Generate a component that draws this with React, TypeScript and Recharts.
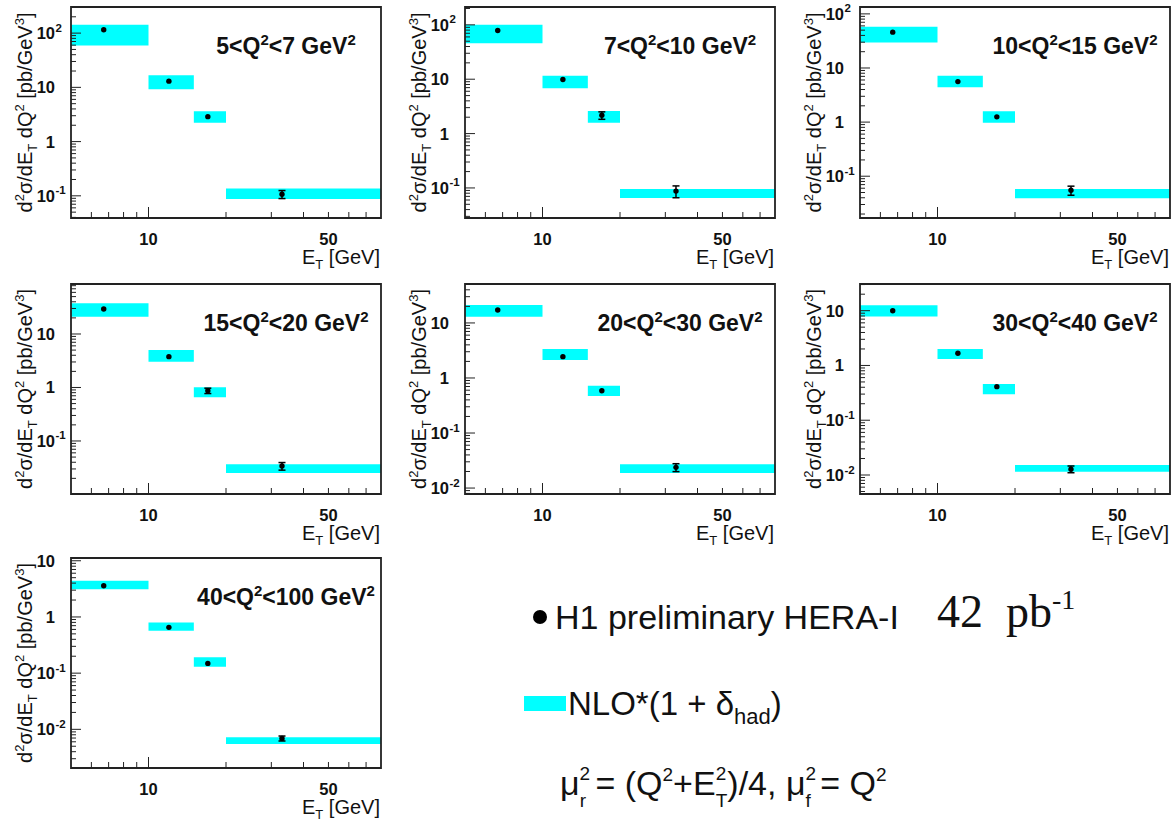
import React from 'react';
import { ScatterChart, Scatter, XAxis, YAxis, ReferenceArea, ErrorBar } from 'recharts';

const SANS = '"Liberation Sans", Arial, Helvetica, sans-serif';
const SERIF = '"Liberation Serif", "Times New Roman", Times, serif';
const CYAN = '#00ffff';
const INK = '#111111';

// E_T binning (GeV)
const ET_BIN_LOW = [5, 10, 15, 20];
const ET_BIN_HIGH = [10, 15, 20, 80];
const ET_POINT = [6.7, 12, 17, 33];
const ET_RANGE = [5, 80];
const ET_TICKS = [6, 7, 8, 9, 10, 20, 30, 40, 50, 60, 70];
const ET_TICK_LABELS = [10, 50];

// Q^2 bins (GeV^2)
const Q2_LOW = [5, 7, 10, 15, 20, 30, 40];
const Q2_HIGH = [7, 10, 15, 20, 30, 40, 100];

// H1 preliminary data points, errors, NLO band (low/high) and y range per Q^2 bin
const H1_Q2_5_7 = [115, 13.0, 2.88, 0.107];
const ERR_Q2_5_7 = [8, 0.8, 0.2, 0.018];
const NLO_LO_Q2_5_7 = [59, 9.2, 2.23, 0.087];
const NLO_HI_Q2_5_7 = [142, 16.8, 3.64, 0.137];
const YR_Q2_5_7 = [0.039, 303];

const H1_Q2_7_10 = [78.7, 9.9, 2.17, 0.0875];
const ERR_Q2_7_10 = [5, 0.6, 0.34, 0.0215];
const NLO_LO_Q2_7_10 = [46, 6.8, 1.59, 0.0656];
const NLO_HI_Q2_7_10 = [100, 11.6, 2.6, 0.0955];
const YR_Q2_7_10 = [0.028, 213];

const H1_Q2_10_15 = [46, 5.6, 1.25, 0.055];
const ERR_Q2_10_15 = [3, 0.35, 0.08, 0.0105];
const NLO_LO_Q2_10_15 = [29.6, 4.4, 0.97, 0.039];
const NLO_HI_Q2_10_15 = [58, 7.2, 1.59, 0.058];
const YR_Q2_10_15 = [0.0169, 134];

const H1_Q2_15_20 = [29.3, 3.77, 0.87, 0.034];
const ERR_Q2_15_20 = [2, 0.25, 0.1, 0.0055];
const NLO_LO_Q2_15_20 = [21, 3.03, 0.656, 0.0252];
const NLO_HI_Q2_15_20 = [37.5, 5.0, 1.01, 0.0367];
const YR_Q2_15_20 = [0.0102, 86];

const H1_Q2_20_30 = [17.2, 2.44, 0.588, 0.0238];
const ERR_Q2_20_30 = [1.2, 0.17, 0.04, 0.0039];
const NLO_LO_Q2_20_30 = [13.0, 2.12, 0.471, 0.0188];
const NLO_HI_Q2_20_30 = [21.2, 3.37, 0.724, 0.0272];
const YR_Q2_20_30 = [0.0078, 51];

const H1_Q2_30_40 = [10, 1.67, 0.41, 0.0128];
const ERR_Q2_30_40 = [0.7, 0.12, 0.03, 0.0018];
const NLO_LO_Q2_30_40 = [7.8, 1.31, 0.298, 0.0115];
const NLO_HI_Q2_30_40 = [12.6, 2.0, 0.46, 0.0153];
const YR_Q2_30_40 = [0.0045, 30.7];

const H1_Q2_40_100 = [3.59, 0.653, 0.149, 0.0069];
const ERR_Q2_40_100 = [0.25, 0.05, 0.012, 0.0007];
const NLO_LO_Q2_40_100 = [3.1, 0.568, 0.13, 0.00547];
const NLO_HI_Q2_40_100 = [4.4, 0.8, 0.191, 0.0072];
const YR_Q2_40_100 = [0.00205, 11.2];

const H1_VALUES = [H1_Q2_5_7, H1_Q2_7_10, H1_Q2_10_15, H1_Q2_15_20, H1_Q2_20_30, H1_Q2_30_40, H1_Q2_40_100];
const H1_ERRORS = [ERR_Q2_5_7, ERR_Q2_7_10, ERR_Q2_10_15, ERR_Q2_15_20, ERR_Q2_20_30, ERR_Q2_30_40, ERR_Q2_40_100];
const NLO_LOW = [NLO_LO_Q2_5_7, NLO_LO_Q2_7_10, NLO_LO_Q2_10_15, NLO_LO_Q2_15_20, NLO_LO_Q2_20_30, NLO_LO_Q2_30_40, NLO_LO_Q2_40_100];
const NLO_HIGH = [NLO_HI_Q2_5_7, NLO_HI_Q2_7_10, NLO_HI_Q2_10_15, NLO_HI_Q2_15_20, NLO_HI_Q2_20_30, NLO_HI_Q2_30_40, NLO_HI_Q2_40_100];
const Y_RANGES = [YR_Q2_5_7, YR_Q2_7_10, YR_Q2_10_15, YR_Q2_15_20, YR_Q2_20_30, YR_Q2_30_40, YR_Q2_40_100];

// errors smaller than the marker are hidden by it (as in ROOT)
const HIDDEN_REL_ERROR = 0.09;

// layout of the plot frames
const COL_LEFT = [71, 465, 860];
const ROW_TOP = [7, 284, 558];
const ROW_H = [211, 210, 210];
const FRAME_W = 310;
const ML = 72;
const MT = 7;
const MR = 10;
const XH = 50;

function frameOf(i: number) {
  const r = Math.floor(i / 3);
  const c = i % 3;
  return { left: COL_LEFT[c], top: ROW_TOP[r], width: FRAME_W, height: ROW_H[r] };
}

function logTicks(range: number[]) {
  const [lo, hi] = range;
  const out: number[] = [];
  for (let e = Math.floor(Math.log10(lo)); e <= Math.ceil(Math.log10(hi)); e++) {
    for (let m = 1; m <= 9; m++) {
      const v = parseFloat((m * Math.pow(10, e)).toPrecision(6));
      if (v >= lo && v <= hi) out.push(v);
    }
  }
  return out;
}

function YTick(props: any) {
  const { x, y, payload } = props;
  const v = payload.value;
  const lg = Math.log10(v);
  const e = Math.round(lg);
  const major = Math.abs(lg - e) < 1e-6;
  return (
    <g>
      <line x1={x} y1={y} x2={x + (major ? 10 : 5)} y2={y} stroke="#222" strokeWidth={1} />
      {major && (
        <text x={x - 16} y={y + 6} textAnchor="end" fontFamily={SANS} fontWeight="bold" fontSize={16.5} fill={INK}>
          {e === 0 ? '1' : '10'}
        </text>
      )}
      {major && e !== 0 && e !== 1 && (
        <text x={x - 15.5} y={y - 1.5} textAnchor="start" fontFamily={SANS} fontWeight="bold" fontSize={11.5} fill={INK}>
          {String(e)}
        </text>
      )}
    </g>
  );
}

function XTick(props: any) {
  const { x, y, payload } = props;
  const v = payload.value;
  const len = v === 10 ? 11 : 6;
  return (
    <g>
      <line x1={x} y1={y} x2={x} y2={y - len} stroke="#222" strokeWidth={1} />
      {ET_TICK_LABELS.includes(v) && (
        <text x={x} y={y + 27} textAnchor="middle" fontFamily={SANS} fontWeight="bold" fontSize={16.5} fill={INK}>
          {String(v)}
        </text>
      )}
    </g>
  );
}

function Dot(props: any) {
  const { cx, cy } = props;
  return <circle cx={cx} cy={cy} r={2.7} fill="#000" />;
}

function Panel({ index }: { index: number }) {
  const f = frameOf(index);
  const yr = Y_RANGES[index];
  const data = ET_POINT.map((et, i) => {
    const v = H1_VALUES[index][i];
    const e = H1_ERRORS[index][i];
    return { et, y: v, err: e / v > HIDDEN_REL_ERROR ? e : null };
  });
  return (
    <div style={{ position: 'absolute', left: f.left - ML, top: f.top - MT }}>
      <ScatterChart
        width={f.width + ML + MR}
        height={f.height + MT + XH}
        margin={{ top: MT, right: MR, bottom: 0, left: 0 }}
      >
        <XAxis
          type="number"
          dataKey="et"
          scale="log"
          domain={ET_RANGE}
          allowDataOverflow
          ticks={ET_TICKS}
          interval={0}
          tick={<XTick />}
          tickLine={false}
          axisLine={false}
          tickSize={0}
          tickMargin={0}
          height={XH}
        />
        <YAxis
          type="number"
          dataKey="y"
          scale="log"
          domain={yr}
          allowDataOverflow
          ticks={logTicks(yr)}
          interval={0}
          tick={<YTick />}
          tickLine={false}
          axisLine={false}
          tickSize={0}
          tickMargin={0}
          width={ML}
        />
        {ET_BIN_LOW.map((lo, i) => (
          <ReferenceArea
            key={'nlo' + i}
            x1={lo}
            x2={ET_BIN_HIGH[i]}
            y1={NLO_LOW[index][i]}
            y2={NLO_HIGH[index][i]}
            fill={CYAN}
            fillOpacity={1}
            stroke="none"
            ifOverflow="visible"
          />
        ))}
        <ReferenceArea
          x1={ET_RANGE[0]}
          x2={ET_RANGE[1]}
          y1={yr[0]}
          y2={yr[1]}
          fill="none"
          stroke="#222"
          strokeWidth={1.8}
          ifOverflow="visible"
        />
        <Scatter data={data} isAnimationActive={false} shape={<Dot />}>
          <ErrorBar dataKey="err" direction="y" width={3.5} stroke="#000" strokeWidth={1.5} isAnimationActive={false} />
        </Scatter>
      </ScatterChart>
    </div>
  );
}

function PanelTexts({ index }: { index: number }) {
  const f = frameOf(index);
  const lx = f.left - 39;
  const ly = f.top + f.height / 2;
  return (
    <g fontFamily={SANS} fill={INK}>
      <text x={f.left + 215} y={f.top + 47} textAnchor="middle" fontWeight="bold" fontSize={23}>
        {`${Q2_LOW[index]}<Q`}
        <tspan dy={-9} fontSize={15}>2</tspan>
        <tspan dy={9}>{`<${Q2_HIGH[index]} GeV`}</tspan>
        <tspan dy={-9} fontSize={15}>2</tspan>
      </text>
      <text
        x={lx}
        y={ly}
        transform={`rotate(-90 ${lx} ${ly})`}
        textAnchor="middle"
        fontSize={20}
      >
        d
        <tspan dy={-8} fontSize={13}>2</tspan>
        <tspan dy={8}>σ/dE</tspan>
        <tspan dy={5} fontSize={13}>T</tspan>
        <tspan dy={-5}> dQ</tspan>
        <tspan dy={-8} fontSize={13}>2</tspan>
        <tspan dy={8}> [pb/GeV</tspan>
        <tspan dy={-8} fontSize={13}>3</tspan>
        <tspan dy={8}>]</tspan>
      </text>
      <text x={f.left + f.width - 1} y={f.top + f.height + 46} textAnchor="end" fontSize={20}>
        E
        <tspan dy={5} fontSize={13}>T</tspan>
        <tspan dy={-5}> [GeV]</tspan>
      </text>
    </g>
  );
}

function Legend() {
  return (
    <g fill={INK}>
      <circle cx={540} cy={617} r={7} fill="#000" />
      <text x={555} y={629} fontFamily={SANS} fontSize={34}>H1 preliminary HERA-I</text>
      <text x={937} y={627} fontFamily={SERIF} fontSize={46}>
        42{'\u00a0\u00a0'}pb
        <tspan dy={-18} fontSize={28}>-1</tspan>
      </text>
      <rect x={524} y={696} width={42} height={15} fill={CYAN} />
      <text x={568} y={715} fontFamily={SANS} fontSize={33}>
        NLO*(1 + δ
        <tspan dy={9} fontSize={22}>had</tspan>
        <tspan dy={-9}>)</tspan>
      </text>
      <text x={560} y={795} fontFamily={SANS} fontSize={34}>
        μ
        <tspan dy={-15} fontSize={19}>2</tspan>
        <tspan dx={-10.5} dy={27} fontSize={19}>r</tspan>
        <tspan dy={-12}> = (Q</tspan>
        <tspan dy={-14} fontSize={19}>2</tspan>
        <tspan dy={14}>+E</tspan>
        <tspan dy={-15} fontSize={19}>2</tspan>
        <tspan dx={-10.5} dy={27} fontSize={19}>T</tspan>
        <tspan dy={-12}>)/4, μ</tspan>
        <tspan dy={-15} fontSize={19}>2</tspan>
        <tspan dx={-10.5} dy={27} fontSize={19}>f</tspan>
        <tspan dy={-12}> = Q</tspan>
        <tspan dy={-14} fontSize={19}>2</tspan>
      </text>
    </g>
  );
}

export default function App() {
  const idx = [0, 1, 2, 3, 4, 5, 6];
  return (
    <div style={{ position: 'relative', width: 1173, height: 822, background: '#fff', overflow: 'hidden' }}>
      <style>{'body{margin:0;}'}</style>
      {idx.map((i) => (
        <Panel key={i} index={i} />
      ))}
      <svg
        width={1173}
        height={822}
        style={{ position: 'absolute', left: 0, top: 0, pointerEvents: 'none' }}
      >
        {idx.map((i) => (
          <PanelTexts key={i} index={i} />
        ))}
        <Legend />
      </svg>
    </div>
  );
}
